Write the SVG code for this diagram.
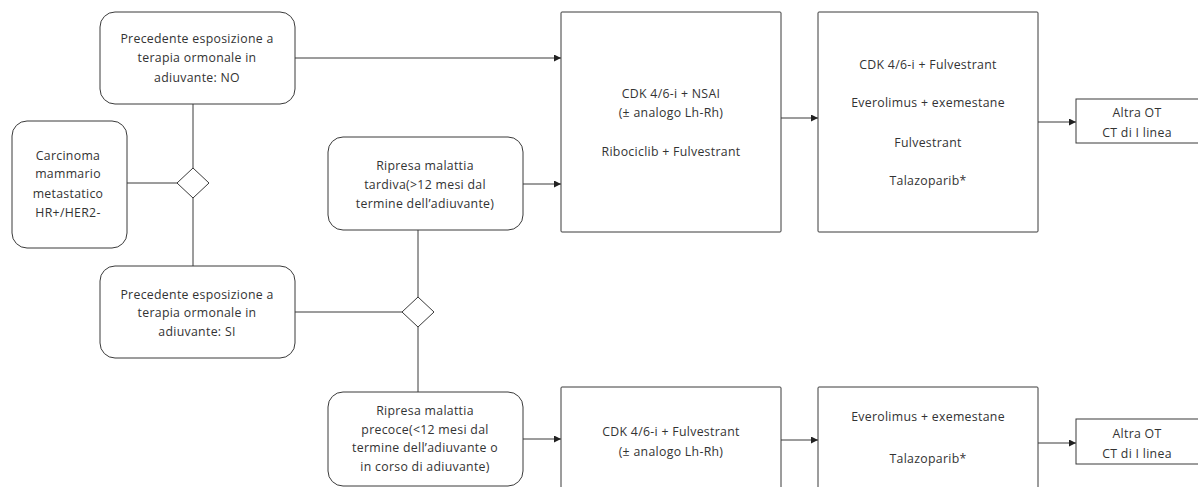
<svg xmlns="http://www.w3.org/2000/svg" width="1198" height="487" viewBox="0 0 1198 487">
<style>
.n{fill:#fff;stroke:#3a3a3a;stroke-width:1}
.t{font-family:"Open Sans","Liberation Sans",sans-serif;font-size:12.3px;letter-spacing:0.3px;fill:#333;text-anchor:middle}
.c{fill:none;stroke:#3a3a3a;stroke-width:1}
</style>
<defs>
<marker id="a" viewBox="0 0 10 10" refX="10" refY="5" markerWidth="7" markerHeight="7" markerUnits="userSpaceOnUse" orient="auto">
<path d="M0,0 L10,5 L0,10 z" fill="#222"/>
</marker>
</defs>
<rect width="1198" height="487" fill="#fff"/>
<g id="connectors">
<line class="c" x1="193" y1="104" x2="193" y2="168"/>
<line class="c" x1="193" y1="198" x2="193" y2="266"/>
<line class="c" x1="127" y1="183" x2="178" y2="183"/>
<line class="c" x1="295" y1="312" x2="402" y2="312"/>
<line class="c" x1="418" y1="297" x2="418" y2="230"/>
<line class="c" x1="418" y1="327" x2="418" y2="392"/>
<line class="c" x1="295" y1="58" x2="561" y2="58" marker-end="url(#a)"/>
<line class="c" x1="523" y1="184" x2="561" y2="184" marker-end="url(#a)"/>
<line class="c" x1="781" y1="118" x2="818" y2="118" marker-end="url(#a)"/>
<line class="c" x1="1038" y1="122" x2="1076" y2="122" marker-end="url(#a)"/>
<line class="c" x1="523" y1="439" x2="561" y2="439" marker-end="url(#a)"/>
<line class="c" x1="781" y1="440" x2="818" y2="440" marker-end="url(#a)"/>
<line class="c" x1="1038" y1="443" x2="1076" y2="443" marker-end="url(#a)"/>
</g>
<g id="d1"><path class="n" d="M193,168 L209,183 L193,198 L177,183 Z"/></g>
<g id="d2"><path class="n" d="M418,297 L434,312 L418,327 L402,312 Z"/></g>
<g id="no">
<rect class="n" x="100" y="12" width="195" height="92" rx="15"/>
<text class="t" x="197" y="43">Precedente esposizione a</text>
<text class="t" x="197" y="62">terapia ormonale  in</text>
<text class="t" x="197" y="82">adiuvante: NO</text>
</g>
<g id="carc">
<rect class="n" x="12" y="121" width="115" height="127" rx="15"/>
<text class="t" x="68" y="160">Carcinoma</text>
<text class="t" x="68" y="178">mammario</text>
<text class="t" x="68" y="198">metastatico</text>
<text class="t" x="68" y="217">HR+/HER2-</text>
</g>
<g id="si">
<rect class="n" x="100" y="266" width="195" height="92" rx="15"/>
<text class="t" x="197" y="299">Precedente esposizione a</text>
<text class="t" x="197" y="317">terapia ormonale  in</text>
<text class="t" x="197" y="336">adiuvante: SI</text>
</g>
<g id="tardiva">
<rect class="n" x="328" y="137" width="195" height="93" rx="15"/>
<text class="t" x="425" y="170">Ripresa malattia</text>
<text class="t" x="425" y="189">tardiva(&gt;12 mesi dal</text>
<text class="t" x="425" y="208">termine dell’adiuvante)</text>
</g>
<g id="precoce">
<rect class="n" x="328" y="392" width="195" height="94" rx="15"/>
<text class="t" x="425" y="415">Ripresa malattia</text>
<text class="t" x="425" y="434">precoce(&lt;12 mesi dal</text>
<text class="t" x="425" y="452">termine dell’adiuvante o</text>
<text class="t" x="425" y="471">in corso di adiuvante)</text>
</g>
<g id="cdk1">
<rect class="n" x="561" y="12" width="220" height="220" rx="1"/>
<text class="t" x="671" y="98">CDK 4/6-i + NSAI</text>
<text class="t" x="671" y="117">(± analogo Lh-Rh)</text>
<text class="t" x="671" y="156">Ribociclib + Fulvestrant</text>
</g>
<g id="box2">
<rect class="n" x="818" y="12" width="220" height="220" rx="1"/>
<text class="t" x="928" y="69">CDK 4/6-i +  Fulvestrant</text>
<text class="t" x="928" y="107">Everolimus + exemestane</text>
<text class="t" x="928" y="147">Fulvestrant</text>
<text class="t" x="928" y="185">Talazoparib*</text>
</g>
<g id="altra1">
<rect class="n" x="1076" y="99" width="130" height="44"/>
<text class="t" x="1137" y="117">Altra OT</text>
<text class="t" x="1137" y="137">CT di I linea</text>
</g>
<g id="cdk2">
<rect class="n" x="561" y="387" width="220" height="120" rx="1"/>
<text class="t" x="671" y="436">CDK 4/6-i + Fulvestrant</text>
<text class="t" x="671" y="456">(± analogo Lh-Rh)</text>
</g>
<g id="box4">
<rect class="n" x="818" y="387" width="220" height="120" rx="1"/>
<text class="t" x="928" y="421">Everolimus + exemestane</text>
<text class="t" x="928" y="463">Talazoparib*</text>
</g>
<g id="altra2">
<rect class="n" x="1076" y="419" width="130" height="45"/>
<text class="t" x="1137" y="438">Altra OT</text>
<text class="t" x="1137" y="458">CT di I linea</text>
</g>
</svg>
